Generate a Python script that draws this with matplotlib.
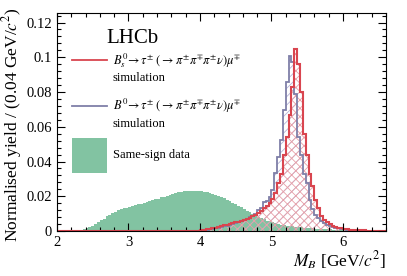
import numpy as np
import matplotlib
matplotlib.use("Agg")
import matplotlib.pyplot as plt
from matplotlib.ticker import MultipleLocator, FormatStrFormatter

plt.rcParams['font.family'] = ['Liberation Serif', 'DejaVu Serif']
plt.rcParams['mathtext.fontset'] = 'stix'
plt.rcParams['hatch.linewidth'] = 0.6

bin_width = 0.04
x_min, x_max = 2.0, 6.6

# simulation histograms, bins of 0.04 starting at 4.00 GeV
sim_start = 4.0
bs_sim = [0.0005, 0.0008, 0.0010, 0.0013, 0.0016, 0.0020, 0.0025, 0.0030, 0.0033, 0.0037,
          0.0040, 0.0045, 0.0050, 0.0052, 0.0057, 0.0062, 0.0068, 0.0075, 0.0085, 0.0095,
          0.0105, 0.0118, 0.0135, 0.0145, 0.0160, 0.0185, 0.0220, 0.0275, 0.0330, 0.0440,
          0.0540, 0.0670, 0.0830, 0.1047, 0.0960, 0.0800, 0.0560, 0.0440, 0.0330, 0.0260,
          0.0180, 0.0130, 0.0085, 0.0065, 0.0050, 0.0040, 0.0030, 0.0025, 0.0020, 0.0015,
          0.0012, 0.0010, 0.0008, 0.0006, 0.0005, 0.0004, 0.0003, 0.0003, 0.0002, 0.0002,
          0.0001, 0.0001, 0.0, 0.0, 0.0]
b0_sim = [0.0003, 0.0005, 0.0007, 0.0009, 0.0012, 0.0015, 0.0018, 0.0022, 0.0026, 0.0030,
          0.0034, 0.0038, 0.0045, 0.0050, 0.0055, 0.0065, 0.0072, 0.0082, 0.0088, 0.0100,
          0.0120, 0.0135, 0.0165, 0.0170, 0.0195, 0.0236, 0.0334, 0.0428, 0.0524, 0.0697,
          0.0860, 0.1005, 0.0970, 0.0790, 0.0540, 0.0440, 0.0330, 0.0275, 0.0180, 0.0125,
          0.0095, 0.0075, 0.0058, 0.0045, 0.0036, 0.0030, 0.0024, 0.0020, 0.0016, 0.0013,
          0.0010, 0.0008, 0.0006, 0.0005, 0.0004, 0.0003, 0.0002, 0.0002, 0.0001, 0.0001,
          0.0, 0.0, 0.0, 0.0, 0.0]

# same-sign data, bins of 0.04 starting at 2.24 GeV
ss_start = 2.24
ss_data = [0.0001, 0.0003, 0.0006, 0.0010, 0.0016, 0.0023, 0.0031, 0.0040, 0.0050, 0.0061,
           0.0072, 0.0084, 0.0095, 0.0104, 0.0112, 0.0119, 0.0125, 0.0130, 0.0135, 0.0140,
           0.0144, 0.0148, 0.0153, 0.0158, 0.0162, 0.0167, 0.0172, 0.0177, 0.0182, 0.0187,
           0.0193, 0.0198, 0.0204, 0.0209, 0.0214, 0.0219, 0.0223, 0.0226, 0.0229, 0.0231,
           0.0232, 0.0232, 0.0232, 0.0231, 0.0229, 0.0226, 0.0222, 0.0218, 0.0214, 0.0209,
           0.0203, 0.0196, 0.0189, 0.0181, 0.0173, 0.0164, 0.0155, 0.0146, 0.0136, 0.0127,
           0.0117, 0.0108, 0.0099, 0.0090, 0.0082, 0.0074, 0.0067, 0.0060, 0.0055, 0.0050,
           0.0045, 0.0041, 0.0037, 0.0034, 0.0031, 0.0029, 0.0027, 0.0025, 0.0023, 0.0021,
           0.0020, 0.0018, 0.0017, 0.0015, 0.0014, 0.0013, 0.0012, 0.0011, 0.0010, 0.0009,
           0.0008, 0.0007, 0.0006, 0.0005, 0.0005, 0.0004, 0.0003, 0.0003, 0.0002, 0.0002,
           0.0001, 0.0001]

red = '#d9454f'
blue = '#7f7fa8'
green = '#82c3a2'


def edges_for(start, n):
    return start + bin_width * np.arange(n + 1)


fig = plt.figure(figsize=(4.07, 2.76), dpi=100)
ax = fig.add_axes([0.14, 0.163, 0.808, 0.79])

ax.stairs(ss_data, edges_for(ss_start, len(ss_data)), fill=True, color=green, lw=0)

e_sim = edges_for(sim_start, len(bs_sim))
ax.stairs(b0_sim, e_sim, fill=True, facecolor='none', edgecolor='#b4b4d8', hatch='////', lw=0)
ax.stairs(bs_sim, e_sim, fill=True, facecolor='none', edgecolor='#e8a0a8', hatch='xxxx', lw=0)
ax.stairs(b0_sim, e_sim, color=blue, lw=1.3)
ax.stairs(bs_sim, e_sim, color=red, lw=1.5)
ax.plot([x_min, sim_start], [0, 0], color=red, lw=1.5)
ax.plot([e_sim[-1], x_max], [0, 0], color=red, lw=1.5)

ax.set_xlim(x_min, x_max)
ax.set_ylim(0, 0.1255)
ax.xaxis.set_major_locator(MultipleLocator(1))
ax.xaxis.set_minor_locator(MultipleLocator(0.2))
ax.yaxis.set_major_locator(MultipleLocator(0.02))
ax.yaxis.set_minor_locator(MultipleLocator(0.004))
ax.yaxis.set_major_formatter(FormatStrFormatter('%g'))
ax.tick_params(which='both', direction='in', top=True, right=True, labelsize=10.5)
ax.tick_params(which='major', length=6, width=0.8)
ax.tick_params(which='minor', length=3, width=0.8)

ax.set_ylabel('Normalised yield / (0.04 GeV/$c^2$)', fontsize=12.5, loc='top')
ax.yaxis.set_label_coords(-0.1, 1.025)
ax.set_xlabel('$M_B$ [GeV/$c^2$]', fontsize=12.5, loc='right')
ax.xaxis.set_label_coords(1.0, -0.085)

# legend, drawn by hand in axes coordinates
tr = ax.transAxes
ax.text(0.15, 0.885, 'LHCb', transform=tr, fontsize=15, va='center', ha='left')
lx0, lx1, tx = 0.046, 0.152, 0.17
ax.plot([lx0, lx1], [0.783, 0.783], color=red, lw=1.3, transform=tr)
ax.text(tx, 0.783, r'$B_s^0\!\to\tau^{\pm}\;(\to\pi^{\pm}\pi^{\mp}\pi^{\pm}\nu)\mu^{\mp}$',
        transform=tr, fontsize=9, va='center')
ax.text(tx, 0.70, 'simulation', transform=tr, fontsize=9, va='center')
ax.plot([lx0, lx1], [0.572, 0.572], color=blue, lw=1.3, transform=tr)
ax.text(tx, 0.572, r'$B^0\!\to\tau^{\pm}\;(\to\pi^{\pm}\pi^{\mp}\pi^{\pm}\nu)\mu^{\mp}$',
        transform=tr, fontsize=9, va='center')
ax.text(tx, 0.49, 'simulation', transform=tr, fontsize=9, va='center')
ax.add_patch(plt.Rectangle((lx0, 0.265), lx1 - lx0, 0.16, transform=tr,
                           facecolor=green, edgecolor='none'))
ax.text(tx, 0.35, 'Same-sign data', transform=tr, fontsize=9, va='center')

fig.savefig('out.png', dpi=100)
